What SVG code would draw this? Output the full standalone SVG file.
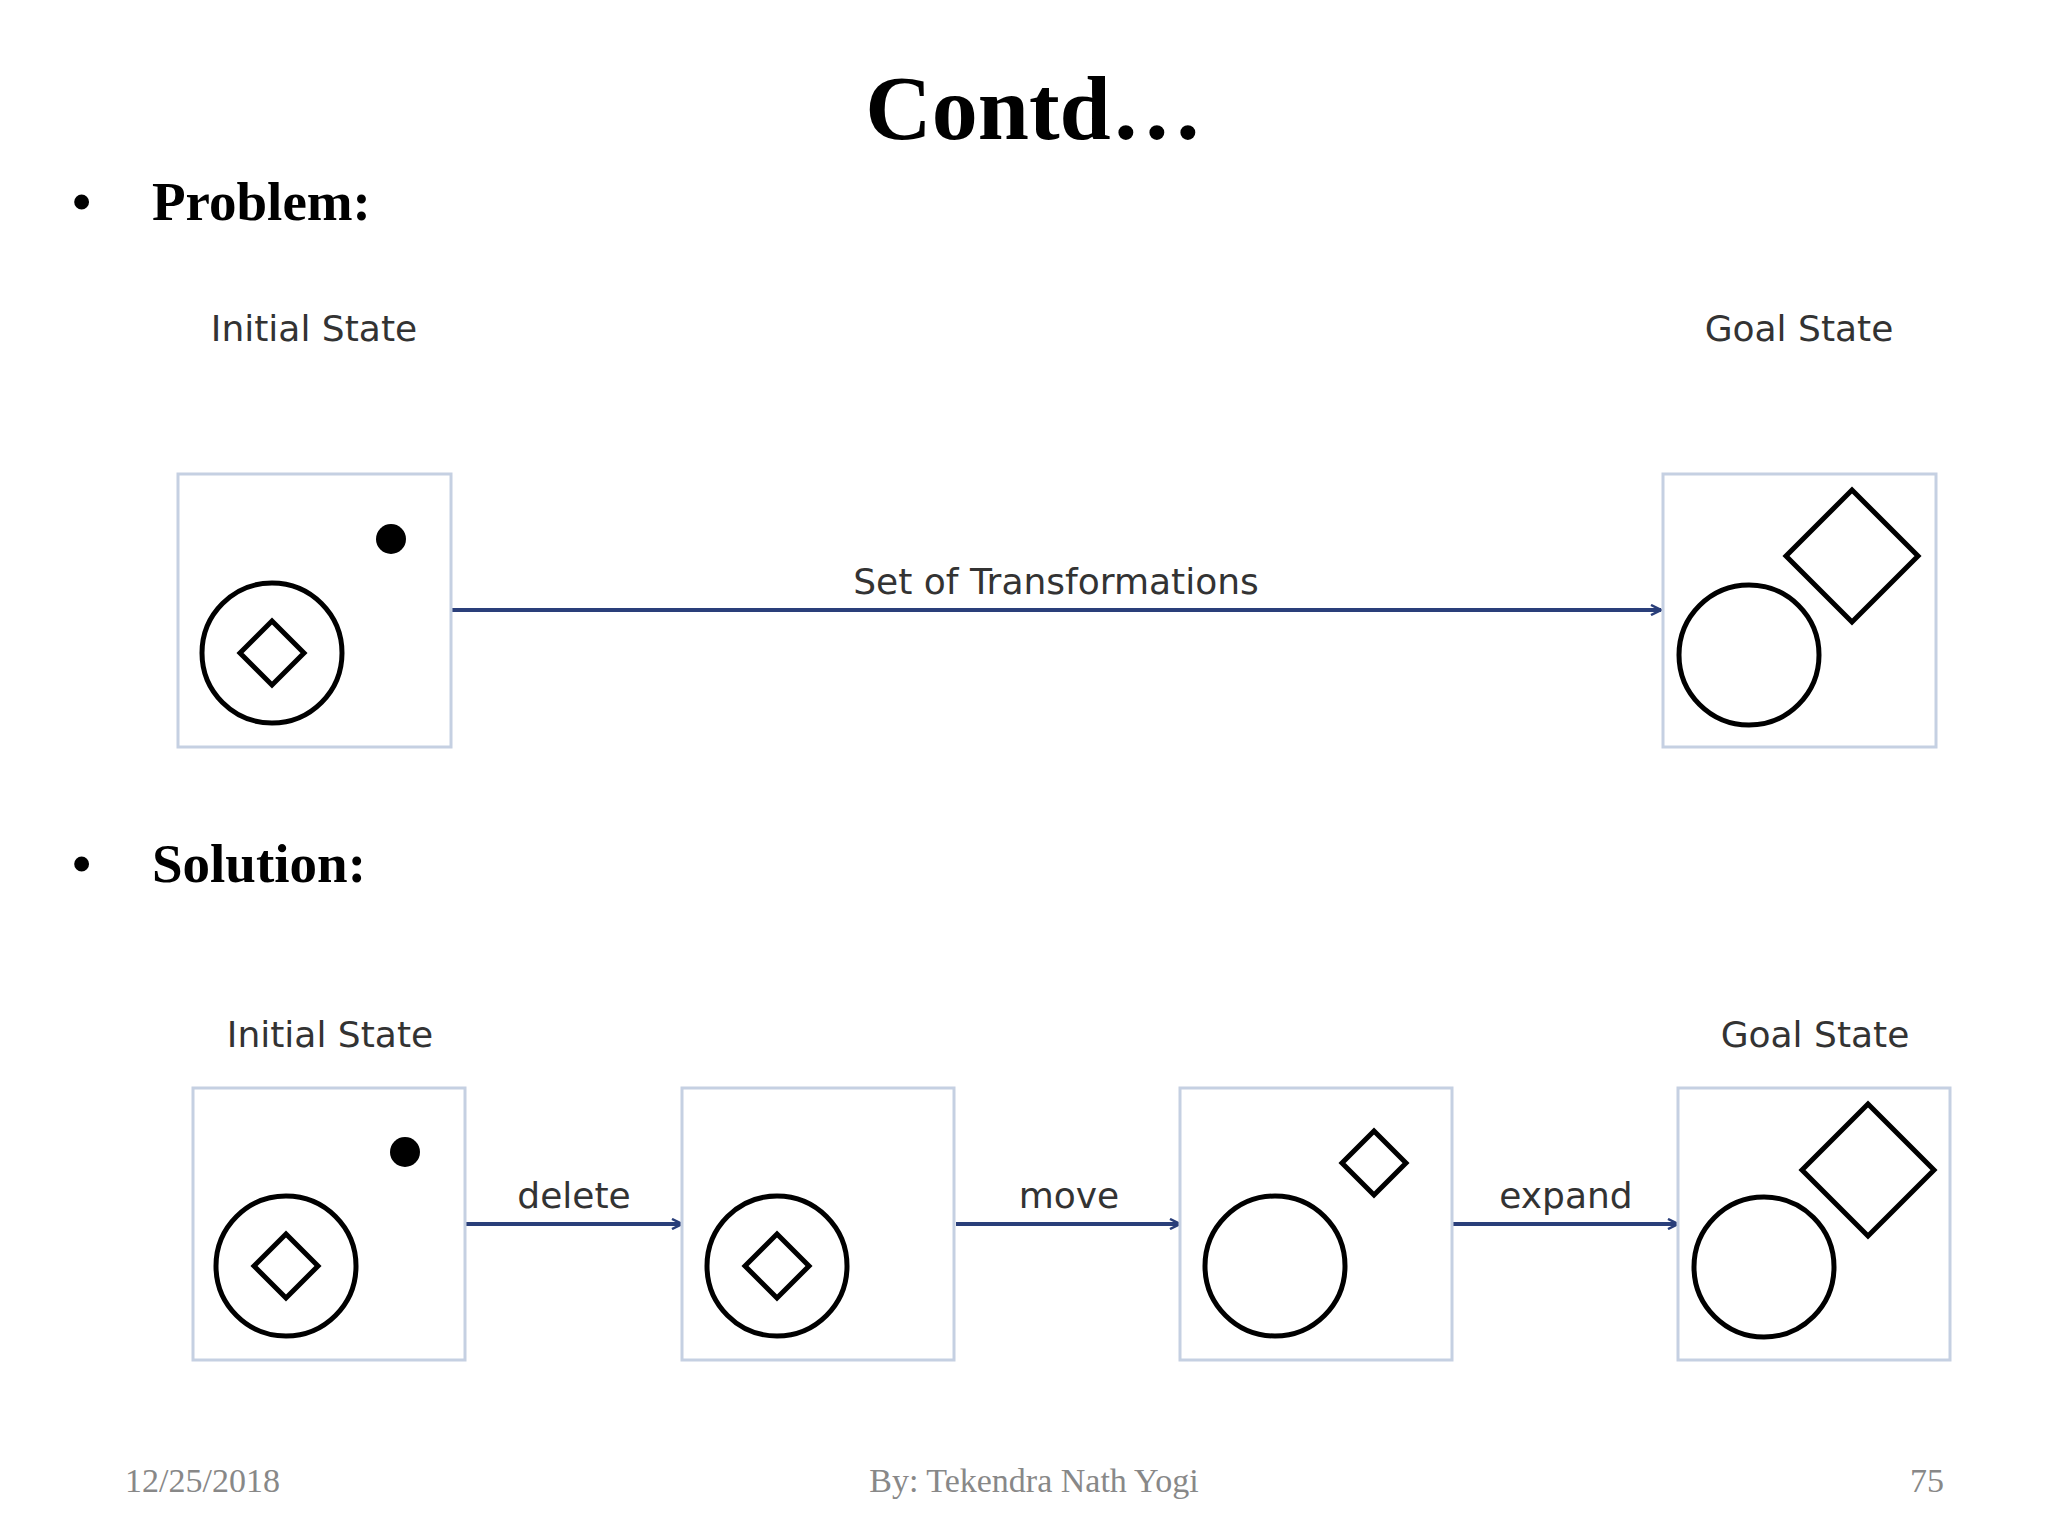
<svg xmlns="http://www.w3.org/2000/svg" width="2048" height="1536" viewBox="0 0 2048 1536">
<defs>
<marker id="ah" viewBox="0 0 12 12" refX="11" refY="6" markerWidth="12" markerHeight="12" markerUnits="userSpaceOnUse" orient="auto">
<path d="M1,1 L11,6 L1,11" fill="none" stroke="#2a3f7a" stroke-width="2.5"/>
</marker>
</defs>
<style>
.h{font-family:"Liberation Serif",serif;font-weight:bold;fill:#000}
.lbl{font-family:"DejaVu Sans",sans-serif;font-size:36px;fill:#333;text-anchor:middle}
.box{fill:#fff;stroke:#c5d0e2;stroke-width:3}
.sh{fill:none;stroke:#000;stroke-width:5}
.ft{font-family:"Liberation Serif",serif;font-size:34px;fill:#888}
.ar{stroke:#2a3f7a;stroke-width:4;fill:none;marker-end:url(#ah)}
</style>
<rect width="2048" height="1536" fill="#fff"/>
<text class="h" x="1034" y="139" font-size="92" text-anchor="middle">Contd…</text>
<text class="h" x="72" y="220" font-size="55">•</text>
<text class="h" x="152" y="220" font-size="55">Problem:</text>
<text class="h" x="72" y="882" font-size="55">•</text>
<text class="h" x="152" y="882" font-size="55">Solution:</text>

<g id="connectors">
<line class="ar" x1="451" y1="610" x2="1661" y2="610"/>
<text class="lbl" x="1056" y="594">Set of Transformations</text>
<line class="ar" x1="466" y1="1224" x2="682" y2="1224"/>
<text class="lbl" x="574" y="1208">delete</text>
<line class="ar" x1="956" y1="1224" x2="1180" y2="1224"/>
<text class="lbl" x="1069" y="1208">move</text>
<line class="ar" x1="1453" y1="1224" x2="1678" y2="1224"/>
<text class="lbl" x="1566" y="1208">expand</text>
</g>

<g id="p-initial">
<text class="lbl" x="314" y="341">Initial State</text>
<rect class="box" x="178" y="474" width="273" height="273"/>
<circle class="sh" cx="272" cy="653" r="70"/>
<path class="sh" d="M272,621 L304,653 L272,685 L240,653 Z"/>
<circle cx="391" cy="539" r="15" fill="#000"/>
</g>
<g id="p-goal">
<text class="lbl" x="1799" y="341">Goal State</text>
<rect class="box" x="1663" y="474" width="273" height="273"/>
<circle class="sh" cx="1749" cy="655" r="70"/>
<path class="sh" d="M1852,490 L1918,556 L1852,622 L1786,556 Z"/>
</g>

<g id="s-initial">
<text class="lbl" x="330" y="1047">Initial State</text>
<rect class="box" x="193" y="1088" width="272" height="272"/>
<circle class="sh" cx="286" cy="1266" r="70"/>
<path class="sh" d="M286,1234 L318,1266 L286,1298 L254,1266 Z"/>
<circle cx="405" cy="1152" r="15" fill="#000"/>
</g>
<g id="s-2">
<rect class="box" x="682" y="1088" width="272" height="272"/>
<circle class="sh" cx="777" cy="1266" r="70"/>
<path class="sh" d="M777,1234 L809,1266 L777,1298 L745,1266 Z"/>
</g>
<g id="s-3">
<rect class="box" x="1180" y="1088" width="272" height="272"/>
<circle class="sh" cx="1275" cy="1266" r="70"/>
<path class="sh" d="M1374,1131 L1406,1163 L1374,1195 L1342,1163 Z"/>
</g>
<g id="s-goal">
<text class="lbl" x="1815" y="1047">Goal State</text>
<rect class="box" x="1678" y="1088" width="272" height="272"/>
<circle class="sh" cx="1764" cy="1267" r="70"/>
<path class="sh" d="M1868,1104 L1934,1170 L1868,1236 L1802,1170 Z"/>
</g>

<text class="ft" x="125" y="1492">12/25/2018</text>
<text class="ft" x="1034" y="1492" text-anchor="middle">By: Tekendra Nath Yogi</text>
<text class="ft" x="1944" y="1492" text-anchor="end">75</text>
</svg>
